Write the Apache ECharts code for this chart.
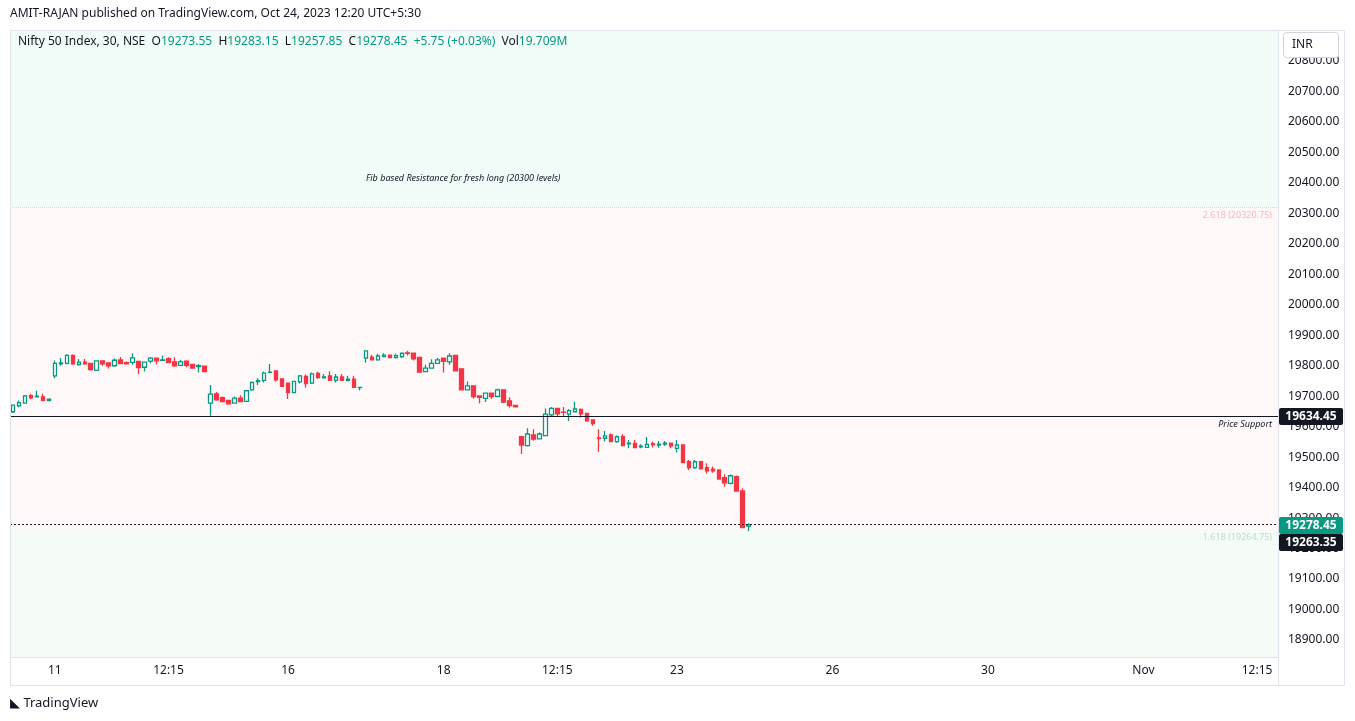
<!DOCTYPE html>
<html>
<head>
<meta charset="UTF-8">
<script src="https://cdn.jsdelivr.net/npm/echarts@6/dist/echarts.min.js"></script>
<style>
  body { margin: 0; background: #fff; font-family: 'Noto Sans', Roboto, sans-serif; }
  #main { width: 1355px; height: 721px; }
</style>
</head>
<body>
<div id="main"></div>
<script>
// 30 min candles, Oct 10 - Oct 24
var opens = [19649,19668,19677,19702,19698,19698,19686,19767,19806,19808,19834,19804,19812,19808,19785,19816,19809,19800,19819,19810,
  19811,19814,19795,19815,19825,19818,19823,19813,19801,19815,19804,19797,19799,19677,19708,19695,19686,19677,19694,19683,
  19721,19748,19752,19778,19783,19757,19743,19712,19747,19765,19743,19775,19760,19767,19752,19763,19752,19756,19728,19825,
  19828,19819,19830,19835,19827,19830,19842,19841,19827,19781,19792,19808,19825,19813,19834,19790,19721,19734,19701,19693,
  19710,19699,19721,19685,19670,19567,19538,19573,19560,19571,19639,19660,19648,19641,19649,19657,19644,19622,19563,19562,
  19573,19551,19567,19544,19545,19534,19532,19544,19540,19543,19546,19529,19540,19485,19466,19485,19466,19461,19458,19433,
  19414,19436,19389,19273.55];
var closes = [19671,19679,19701,19695,19700,19686,19690,19808,19809,19834,19806,19812,19806,19787,19816,19806,19800,19818,19807,19806,
  19826,19794,19812,19825,19816,19819,19810,19800,19813,19801,19792,19800,19781,19707,19688,19682,19675,19694,19682,19718,
  19745,19751,19776,19779,19754,19732,19712,19749,19767,19741,19773,19761,19763,19752,19763,19752,19756,19729,19729,19849,
  19819,19832,19835,19827,19833,19841,19841,19823,19779,19792,19808,19819,19814,19832,19783,19721,19734,19699,19696,19710,
  19699,19721,19681,19669,19665,19540,19576,19559,19576,19641,19660,19642,19647,19653,19658,19642,19619,19610,19561,19570,
  19551,19567,19538,19546,19531,19536,19542,19541,19543,19546,19537,19540,19482,19466,19485,19462,19455,19455,19428,19416,
  19439,19389,19269,19278.45];
var highs = [19673,19686,19704,19708,19718,19708,19692,19817,19825,19838,19837,19822,19822,19810,19818,19818,19811,19824,19829,19815,
  19841,19816,19814,19829,19826,19834,19828,19828,19820,19818,19806,19806,19801,19737,19714,19699,19688,19699,19703,19721,
  19748,19759,19781,19806,19785,19758,19745,19751,19770,19771,19778,19780,19773,19782,19773,19773,19767,19767,19730,19850,
  19836,19839,19841,19836,19839,19843,19849,19843,19829,19803,19821,19825,19827,19841,19836,19792,19748,19735,19703,19712,
  19712,19725,19722,19697,19671,19568,19595,19592,19582,19660,19665,19662,19665,19658,19682,19660,19646,19624,19592,19586,
  19578,19571,19575,19556,19556,19542,19566,19551,19553,19553,19547,19556,19542,19491,19491,19487,19480,19469,19460,19444,
  19443,19440,19398,19283.15];
var lows = [19645,19664,19675,19690,19696,19684,19684,19759,19800,19805,19803,19800,19803,19784,19783,19800,19791,19797,19805,19805,
  19803,19773,19781,19808,19804,19817,19808,19797,19800,19795,19790,19778,19780,19636,19685,19680,19672,19675,19680,19681,
  19718,19737,19745,19776,19748,19730,19691,19710,19742,19729,19740,19757,19759,19750,19745,19750,19748,19727,19719,19810,
  19817,19816,19828,19826,19824,19825,19834,19817,19777,19779,19790,19806,19778,19803,19782,19719,19720,19692,19677,19681,
  19692,19697,19678,19663,19663,19510,19535,19554,19558,19569,19634,19635,19634,19619,19647,19630,19616,19603,19518,19551,
  19549,19547,19536,19529,19529,19529,19530,19532,19531,19537,19529,19515,19480,19458,19461,19460,19446,19449,19426,19403,
  19410,19387,19268,19257.85];
var totalSlots = 212;
var dateTicks = {7: '11', 26: '12:15', 46: '16', 72: '18', 91: '12:15', 111: '23', 137: '26', 163: '30', 189: 'Nov', 208: '12:15'};
var supportLevel = 19634.45;
var lastPrice = 19278.45;
var fibUpper = 20320.75;
var fibLower = 19264.75;
var yMin = 18800, yMax = 20900, yTickStep = 100;

var categories = [];
for (var i = 0; i < totalSlots; i++) categories.push(dateTicks[i] || '');
var candles = [];
for (var i = 0; i < opens.length; i++) candles.push([opens[i], closes[i], lows[i], highs[i]]);

var green = '#089981', red = '#f23645';
var font = 'Noto Sans';

function txt(x, y, s, opt) {
  var st = { text: s, x: x, y: y, fontSize: 12, fill: '#131722', fontFamily: font };
  for (var k in opt) st[k] = opt[k];
  return { type: 'text', z: 200, style: st };
}
function tag(y, s, bg) {
  return [
    { type: 'rect', z: 200, shape: { x: 1279, y: y, width: 64, height: 17, r: 2 }, style: { fill: bg } },
    txt(1311, y + 8.5, s, { fill: '#fff', fontWeight: 'bold', align: 'center', verticalAlign: 'middle' })
  ];
}

var chart = echarts.init(document.getElementById('main'));
chart.setOption({
  animation: false,
  grid: { left: 10, right: 77, top: 30.5, bottom: 50.5 },
  xAxis: {
    type: 'category', data: categories,
    axisLine: { show: false }, axisTick: { show: false },
    axisLabel: { interval: 0, color: '#131722', fontSize: 12, margin: -6, fontFamily: font },
    splitLine: { show: false }
  },
  yAxis: {
    type: 'value', position: 'right', min: yMin, max: yMax, interval: yTickStep, scale: true,
    axisLine: { show: false }, axisTick: { show: false }, splitLine: { show: false },
    axisLabel: {
      color: '#131722', fontSize: 12, margin: 10, fontFamily: font,
      formatter: function (v) { return (v <= 18850 || v >= 20900) ? '' : v.toFixed(2); }
    }
  },
  series: [{
    type: 'candlestick', data: candles, barWidth: 4,
    itemStyle: { color: '#ffffff', color0: red, borderColor: green, borderColor0: red, borderWidth: 1.3 },
    markArea: {
      silent: true,
      data: [
        [{ yAxis: fibUpper, itemStyle: { color: '#f1fcf9' } }, { yAxis: 20902 }],
        [{ yAxis: fibLower, itemStyle: { color: '#fff8f8' } }, { yAxis: fibUpper }],
        [{ yAxis: 18844, itemStyle: { color: '#f5fbf7' } }, { yAxis: fibLower }]
      ]
    },
    markLine: {
      silent: true, symbol: 'none', label: { show: false },
      data: [
        { yAxis: fibUpper, lineStyle: { color: '#f7c9cd', type: 'dotted', width: 1 } },
        { yAxis: supportLevel, lineStyle: { color: '#131722', type: 'solid', width: 1 } },
        { yAxis: lastPrice, lineStyle: { color: '#131722', type: [2, 2], width: 1 } }
      ]
    }
  }],
  graphic: [
    txt(10, 14, 'AMIT-RAJAN published on TradingView.com, Oct 24, 2023 12:20 UTC+5:30', { verticalAlign: 'middle' }),
    { type: 'rect', z: 150, shape: { x: 10.5, y: 30.5, width: 1334, height: 655 }, style: { fill: 'none', stroke: '#e0e3eb' } },
    { type: 'line', z: 150, shape: { x1: 10, y1: 657.5, x2: 1278, y2: 657.5 }, style: { stroke: '#e0e3eb' } },
    { type: 'line', z: 150, shape: { x1: 1278.5, y1: 30, x2: 1278.5, y2: 686 }, style: { stroke: '#e0e3eb' } },
    { type: 'text', z: 200, style: { x: 18, y: 42, verticalAlign: 'middle', rich: {
        a: { fill: '#131722', fontSize: 12, fontFamily: font },
        g: { fill: green, fontSize: 12, fontFamily: font } },
        text: '{a|Nifty 50 Index, 30, NSE  O}{g|19273.55}{a|  H}{g|19283.15}{a|  L}{g|19257.85}{a|  C}{g|19278.45}{g|  +5.75 (+0.03%)}{a|  Vol}{g|19.709M}' } },
    { type: 'rect', z: 200, shape: { x: 1283.5, y: 32.5, width: 55, height: 25, r: 3 }, style: { fill: '#fff', stroke: '#d1d4dc' } },
    txt(1292, 45, 'INR', { verticalAlign: 'middle' }),
    txt(366, 178, 'Fib based Resistance for fresh long (20300 levels)', { fontSize: 9, fontStyle: 'italic', verticalAlign: 'middle' }),
    txt(1272, 215, '2.618 (20320.75)', { fontSize: 9, fill: '#f7b6bc', align: 'right', verticalAlign: 'middle' }),
    txt(1272, 424, 'Price Support', { fontSize: 9, fontStyle: 'italic', align: 'right', verticalAlign: 'middle' }),
    txt(1272, 537, '1.618 (19264.75)', { fontSize: 9, fill: '#b5e3c4', align: 'right', verticalAlign: 'middle' }),
    txt(10, 703, '◣ TradingView', { fontSize: 13, verticalAlign: 'middle' })
  ].concat(tag(408, '19634.45', '#131722'), tag(517, '19278.45', green), tag(534, '19263.35', '#131722'))
});
</script>
</body>
</html>
